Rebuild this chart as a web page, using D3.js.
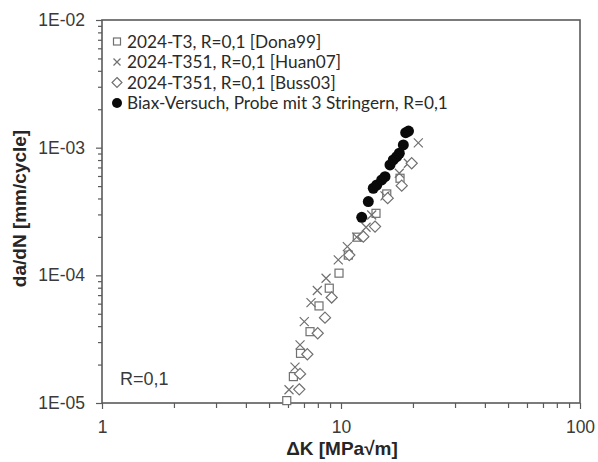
<!DOCTYPE html>
<html>
<head>
<meta charset="utf-8">
<script src="https://cdn.jsdelivr.net/npm/d3@7"></script>
<style>
  html, body { margin: 0; padding: 0; background: #fff; }
  svg { display: block; }
</style>
</head>
<body>
<svg id="chart" width="598" height="462"></svg>
<script>
// Fatigue crack growth rate da/dN versus stress intensity range ΔK

// 2024-T3, R=0,1 [Dona99]
const dona99K    = [5.93, 6.32, 6.77, 7.42, 8.09, 8.93, 9.81, 10.73, 11.70, 14.01, 15.54, 17.66];
const dona99Rate = [1.044e-5, 1.61e-5, 2.45e-5, 3.62e-5, 5.76e-5, 7.93e-5, 1.04e-4, 1.44e-4, 1.99e-4, 3.06e-4, 4.34e-4, 5.76e-4];

// 2024-T351, R=0,1 [Huan07]
const huan07K    = [6.06, 6.42, 6.74, 7.02, 7.49, 7.96, 8.66, 9.74, 10.63, 11.63, 12.73, 13.44, 15.28, 17.54, 19.13, 21.06];
const huan07Rate = [1.27e-5, 1.91e-5, 2.85e-5, 4.34e-5, 6.11e-5, 7.61e-5, 9.49e-5, 1.32e-4, 1.68e-4, 1.99e-4, 2.38e-4, 2.97e-4, 4.19e-4, 6.30e-4, 7.55e-4, 1.09e-3];

// 2024-T351, R=0,1 [Buss03]
const buss03K    = [6.69, 6.74, 7.23, 7.99, 8.57, 9.14, 10.83, 12.40, 13.88, 15.68, 17.95, 19.76];
const buss03Rate = [1.28e-5, 1.69e-5, 2.41e-5, 3.52e-5, 4.66e-5, 6.71e-5, 1.44e-4, 2.01e-4, 2.41e-4, 4.02e-4, 5.04e-4, 7.55e-4];

// Biax-Versuch, Probe mit 3 Stringern, R=0,1
const biaxK    = [12.21, 13.01, 13.65, 14.11, 14.80, 15.28, 16.03, 16.55, 17.10, 17.54, 18.23, 18.65, 19.16];
const biaxRate = [2.85e-4, 3.78e-4, 4.81e-4, 5.10e-4, 5.59e-4, 5.93e-4, 7.32e-4, 8.01e-4, 8.50e-4, 9.04e-4, 1.05e-3, 1.31e-3, 1.35e-3];

// Axis ticks and labels
const xTickValues = [1, 10, 100];
const xTickLabels = ["1", "10", "100"];
const yTickValues = [1e-5, 1e-4, 1e-3, 1e-2];
const yTickLabels = ["1E-05", "1E-04", "1E-03", "1E-02"];

const seriesNames = [
  "2024-T3, R=0,1 [Dona99]",
  "2024-T351, R=0,1 [Huan07]",
  "2024-T351, R=0,1 [Buss03]",
  "Biax-Versuch, Probe mit 3 Stringern, R=0,1"
];
const seriesShapes = ["square", "cross", "diamond", "circle"];

const xTitle = "ΔK [MPa√m]";
const yTitle = "da/dN [mm/cycle]";
const noteText = "R=0,1";

// ---------------------------------------------------------------
const svg = d3.select("#chart");
const margin = { left: 102, right: 18, top: 20, bottom: 59 };
const W = 598, H = 462;
const plotW = W - margin.left - margin.right;
const plotH = H - margin.top - margin.bottom;

const x = d3.scaleLog().domain([1, 100]).range([margin.left, margin.left + plotW]);
const y = d3.scaleLog().domain([1e-5, 1e-2]).range([margin.top + plotH, margin.top]);

const axisColor = "#5a5a5a";
const labelColor = "#3a3a3a";
const markerColor = "#707070";
const tickFont = "Liberation Sans, Arial, sans-serif";

// minor tick positions: 2..9 inside each decade
function minorTicks(lo, hi) {
  const out = [];
  for (let d = lo; d < hi; d *= 10) {
    for (let m = 2; m <= 9; m++) out.push(m * d);
  }
  return out;
}

// minor ticks
svg.append("g")
  .attr("transform", `translate(0,${margin.top + plotH})`)
  .call(d3.axisBottom(x).tickValues(minorTicks(1, 100)).tickSize(5).tickFormat(""))
  .call(g => g.select(".domain").remove());
svg.append("g")
  .attr("transform", `translate(${margin.left},0)`)
  .call(d3.axisLeft(y).tickValues(minorTicks(1e-5, 1e-2)).tickSize(4).tickFormat(""))
  .call(g => g.select(".domain").remove());

// major ticks with labels
const xAxis = svg.append("g")
  .attr("transform", `translate(0,${margin.top + plotH})`)
  .call(d3.axisBottom(x).tickValues(xTickValues).tickSize(6).tickPadding(12)
    .tickFormat((d, i) => xTickLabels[i]));
const yAxis = svg.append("g")
  .attr("transform", `translate(${margin.left},0)`)
  .call(d3.axisLeft(y).tickValues(yTickValues).tickSize(6).tickPadding(11)
    .tickFormat((d, i) => yTickLabels[i]));

[xAxis, yAxis].forEach(g => {
  g.selectAll("text").attr("font-family", tickFont).attr("font-size", 17.5).attr("fill", labelColor);
  g.select(".domain").remove();
});
svg.selectAll(".tick line").attr("stroke", axisColor).attr("stroke-width", 1.2);

// plot frame
svg.append("rect")
  .attr("x", margin.left).attr("y", margin.top)
  .attr("width", plotW).attr("height", plotH)
  .attr("fill", "none").attr("stroke", axisColor).attr("stroke-width", 1.6);

// axis titles
svg.append("text")
  .attr("x", x(10) + 1).attr("y", 455)
  .attr("text-anchor", "middle")
  .attr("font-family", tickFont).attr("font-weight", "bold").attr("font-size", 19)
  .attr("fill", "#262626")
  .text(xTitle);
svg.append("text")
  .attr("transform", `translate(26,${(margin.top + margin.top + plotH) / 2 - 3}) rotate(-90)`)
  .attr("text-anchor", "middle")
  .attr("font-family", tickFont).attr("font-weight", "bold").attr("font-size", 19)
  .attr("fill", "#262626")
  .text(yTitle);

// note inside the plot
svg.append("text")
  .attr("x", 120).attr("y", 385)
  .attr("font-family", tickFont).attr("font-size", 18)
  .attr("fill", labelColor)
  .text(noteText);

// marker drawing
function drawMarker(g, shape, cx, cy, s) {
  if (shape === "square") {
    g.append("rect").attr("x", cx - s / 2).attr("y", cy - s / 2)
      .attr("width", s).attr("height", s)
      .attr("fill", "#fff").attr("stroke", markerColor).attr("stroke-width", 1.2);
  } else if (shape === "diamond") {
    const h = s * 0.62;
    g.append("path")
      .attr("d", `M${cx},${cy - h}L${cx + h},${cy}L${cx},${cy + h}L${cx - h},${cy}Z`)
      .attr("fill", "#fff").attr("stroke", markerColor).attr("stroke-width", 1.2);
  } else if (shape === "cross") {
    const h = s / 2;
    g.append("path")
      .attr("d", `M${cx - h},${cy - h}L${cx + h},${cy + h}M${cx - h},${cy + h}L${cx + h},${cy - h}`)
      .attr("stroke", markerColor).attr("stroke-width", 1.2);
  } else {
    g.append("circle").attr("cx", cx).attr("cy", cy).attr("r", s / 2)
      .attr("fill", "#0a0a0a");
  }
}

const series = [
  { k: dona99K, r: dona99Rate, shape: "square", size: 8 },
  { k: huan07K, r: huan07Rate, shape: "cross", size: 9 },
  { k: buss03K, r: buss03Rate, shape: "diamond", size: 9 },
  { k: biaxK, r: biaxRate, shape: "circle", size: 11 }
];

const pts = svg.append("g");
series.forEach(s => {
  s.k.forEach((kv, i) => drawMarker(pts, s.shape, x(kv), y(s.r[i]), s.size));
});

// legend
const legend = svg.append("g");
const legendY = [41.5, 62, 82.5, 103];
const legendSizes = [7, 7, 8, 10];
const legendFont = "Lato, 'Open Sans', sans-serif";
const texts = [];
seriesNames.forEach((name, i) => {
  drawMarker(legend, seriesShapes[i], 117, legendY[i], legendSizes[i]);
  texts.push(legend.append("text")
    .attr("x", 127).attr("y", legendY[i])
    .attr("dy", "0.35em")
    .attr("font-family", legendFont).attr("font-size", 17)
    .attr("fill", "#2a2a2a")
    .text(name));
});
// size legend text so the longest entry spans its intended width
const longest = texts[3].node().getComputedTextLength();
const fs = 17 * 321 / longest;
texts.forEach(t => t.attr("font-size", fs));
</script>
</body>
</html>
